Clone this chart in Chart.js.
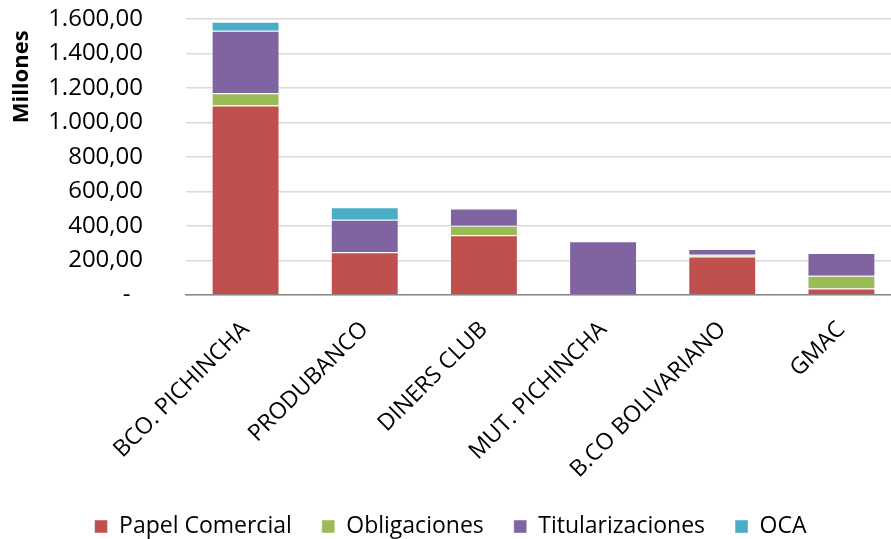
<!DOCTYPE html>
<html><head><meta charset="utf-8">
<script src="https://cdn.jsdelivr.net/npm/chart.js@4/dist/chart.umd.min.js"></script>
<style>
html,body{margin:0;padding:0;background:#fff;overflow:hidden;width:891px;height:539px}
#wrap{width:901px;height:548px;position:relative}
</style></head>
<body><div id="wrap"><canvas id="c" width="901" height="548"></canvas></div>
<script>
const categories = ['BCO. PICHINCHA','PRODUBANCO','DINERS CLUB','MUT. PICHINCHA','B.CO BOLIVARIANO','GMAC'];
const papelComercial = [1098, 248, 347, 0, 223, 37];
const obligaciones = [71, 0, 54, 0, 10, 75];
const titularizaciones = [363, 188, 101, 312, 33, 131];
const oca = [52, 72, 0, 0, 0, 0];
const seriesNames = ['Papel Comercial','Obligaciones','Titularizaciones','OCA'];
const yTicks = [0,200,400,600,800,1000,1200,1400,1600];

const FONT = '"Open Sans", sans-serif';
const colors = ['#C0504D','#9BBB59','#8064A2','#4BACC6'];
const values = [papelComercial, obligaciones, titularizaciones, oca];

function fmt(v){
  if (v === 0) return '-  ';
  const s = Math.round(v).toString().replace(/\B(?=(\d{3})+(?!\d))/g, '.');
  return s + ',00';
}

new Chart(document.getElementById('c'), {
  type: 'bar',
  data: {
    labels: categories,
    datasets: seriesNames.map((n,i)=>({
      label: n,
      data: values[i],
      backgroundColor: colors[i],
      borderColor: 'rgba(255,255,255,0.45)',
      borderWidth: 1,
      barPercentage: 0.57,
      categoryPercentage: 1.0
    }))
  },
  options: {
    responsive: false,
    animation: false,
    layout: { padding: { top: 19, right: 0, left: 0, bottom: 0 } },
    plugins: {
      legend: {
        position: 'bottom',
        labels: {
          font: { family: FONT, size: 23 },
          color: '#000',
          boxWidth: 13, boxHeight: 13,
          padding: 30
        }
      },
      tooltip: { enabled: false }
    },
    scales: {
      x: {
        stacked: true,
        grid: { display: false, drawTicks: false },
        border: { display: true, color: '#898989', width: 1.5 },
        ticks: {
          font: { family: FONT, size: 23 },
          color: '#000',
          maxRotation: 45, minRotation: 45,
          autoSkip: false,
          padding: 21
        },
        afterFit: s => { s.height = 190; }
      },
      y: {
        stacked: true,
        min: 0, max: 1600,
        afterBuildTicks: s => { s.ticks = yTicks.map(v=>({value:v})); },
        grid: { color: '#d9d9d9', lineWidth: 1.5, drawTicks: false },
        border: { display: false },
        ticks: {
          font: { family: FONT, size: 24 },
          color: '#000',
          padding: 43,
          autoSkip: false,
          callback: v => fmt(v)
        },
        title: {
          display: true,
          text: 'Millones  ',
          align: 'end',
          font: { family: FONT, size: 22, weight: 'bold' },
          color: '#000',
          padding: { top: 9, bottom: 0 }
        },
        afterFit: s => { s.width = 186; s.paddingTop = 0; s.paddingBottom = 0; }
      }
    }
  }
});
</script>
</body></html>
